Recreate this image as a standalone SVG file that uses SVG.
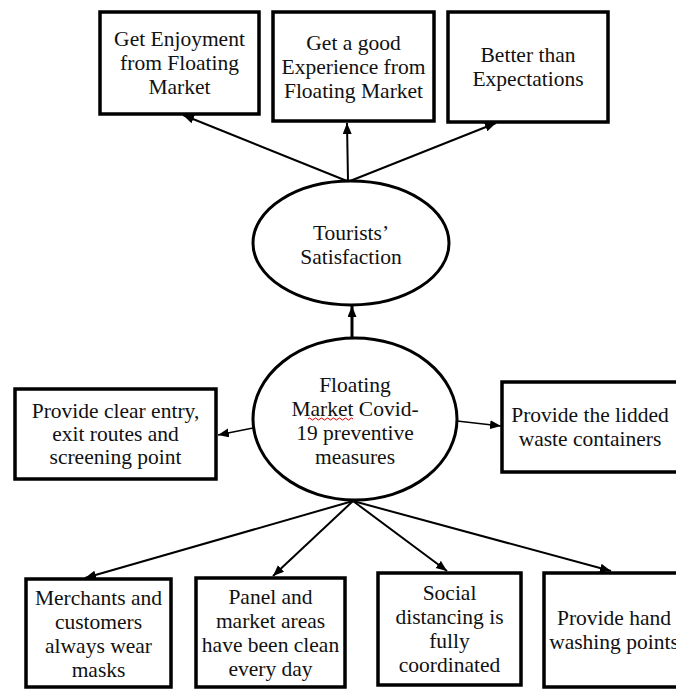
<svg xmlns="http://www.w3.org/2000/svg" width="676" height="689" viewBox="0 0 676 689">
<style>
.box{fill:#fff;stroke:#000;stroke-width:3.5}
.ell{fill:#fff;stroke:#000;stroke-width:3}
.t{font-family:"Liberation Serif","Times New Roman",serif;font-size:21.5px;fill:#111;text-anchor:middle}
.c{stroke:#000;fill:none}
</style>
<defs>
<marker id="ah" markerUnits="userSpaceOnUse" markerWidth="12" markerHeight="10" refX="11" refY="4.5" orient="auto">
<path d="M0,0 L11,4.5 L0,9 z" fill="#000"/>
</marker>
</defs>
<rect width="676" height="689" fill="#fff"/>
<g id="connectors">
<line class="c" stroke-width="2" x1="347" y1="181" x2="183" y2="115" marker-end="url(#ah)"/>
<line class="c" stroke-width="2" x1="348" y1="181" x2="347" y2="123" marker-end="url(#ah)"/>
<line class="c" stroke-width="2" x1="350" y1="181" x2="496" y2="123" marker-end="url(#ah)"/>
<line class="c" stroke-width="3" x1="352" y1="338" x2="352" y2="306" marker-end="url(#ah)"/>
<line class="c" stroke-width="1.3" x1="253" y1="428" x2="218" y2="435" marker-end="url(#ah)"/>
<line class="c" stroke-width="1.3" x1="457" y1="421" x2="501" y2="426" marker-end="url(#ah)"/>
<line class="c" stroke-width="2" x1="353" y1="501" x2="85" y2="578" marker-end="url(#ah)"/>
<line class="c" stroke-width="2" x1="353" y1="501" x2="273" y2="576" marker-end="url(#ah)"/>
<line class="c" stroke-width="2" x1="353" y1="501" x2="447" y2="571" marker-end="url(#ah)"/>
<line class="c" stroke-width="2" x1="353" y1="501" x2="611" y2="571" marker-end="url(#ah)"/>
</g>
<g id="n-enjoyment">
<rect class="box" x="100" y="12" width="159" height="102"/>
<text class="t" x="179.5" y="46">Get Enjoyment</text>
<text class="t" x="179.5" y="70">from Floating</text>
<text class="t" x="179.5" y="94">Market</text>
</g>
<g id="n-experience">
<rect class="box" x="273" y="12" width="161" height="109"/>
<text class="t" x="353.5" y="50">Get a good</text>
<text class="t" x="353.5" y="74">Experience from</text>
<text class="t" x="353.5" y="98">Floating Market</text>
</g>
<g id="n-better">
<rect class="box" x="448" y="12" width="160" height="110"/>
<text class="t" x="528" y="62">Better than</text>
<text class="t" x="528" y="86">Expectations</text>
</g>
<g id="n-satisfaction">
<ellipse class="ell" cx="351" cy="243" rx="98" ry="62"/>
<text class="t" x="351" y="240">Tourists’</text>
<text class="t" x="351" y="264">Satisfaction</text>
</g>
<g id="n-measures">
<ellipse class="ell" cx="355" cy="419" rx="102" ry="81"/>
<text class="t" x="355" y="392">Floating</text>
<text class="t" x="355" y="416">Market Covid-</text>
<text class="t" x="355" y="440">19 preventive</text>
<text class="t" x="355" y="464">measures</text>
<path d="M308,419 q1.5,-2 3,0 t3,0 t3,0 t3,0 t3,0 t3,0 t3,0 t3,0 t3,0 t3,0 t3,0 t3,0 t3,0 t3,0 t3,0" fill="none" stroke="#d00" stroke-width="1"/>
</g>
<g id="n-entry">
<rect class="box" x="15" y="389" width="201" height="90"/>
<text class="t" x="115.5" y="418">Provide clear entry,</text>
<text class="t" x="115.5" y="441">exit routes and</text>
<text class="t" x="115.5" y="464">screening point</text>
</g>
<g id="n-waste">
<rect class="box" x="502" y="382" width="176" height="90"/>
<text class="t" x="590" y="422">Provide the lidded</text>
<text class="t" x="590" y="446">waste containers</text>
</g>
<g id="n-masks">
<rect class="box" x="26" y="579" width="145" height="108"/>
<text class="t" x="98.5" y="605">Merchants and</text>
<text class="t" x="98.5" y="629">customers</text>
<text class="t" x="98.5" y="653">always wear</text>
<text class="t" x="98.5" y="677">masks</text>
</g>
<g id="n-clean">
<rect class="box" x="196" y="578" width="149" height="109"/>
<text class="t" x="270.5" y="604">Panel and</text>
<text class="t" x="270.5" y="628">market areas</text>
<text class="t" x="270.5" y="652">have been clean</text>
<text class="t" x="270.5" y="676">every day</text>
</g>
<g id="n-distancing">
<rect class="box" x="378" y="573" width="143" height="112"/>
<text class="t" x="449.5" y="600">Social</text>
<text class="t" x="449.5" y="624">distancing is</text>
<text class="t" x="449.5" y="648">fully</text>
<text class="t" x="449.5" y="672">coordinated</text>
</g>
<g id="n-washing">
<rect class="box" x="544" y="573" width="140" height="114"/>
<text class="t" x="614" y="625">Provide hand</text>
<text class="t" x="614" y="649">washing points</text>
</g>
</svg>
